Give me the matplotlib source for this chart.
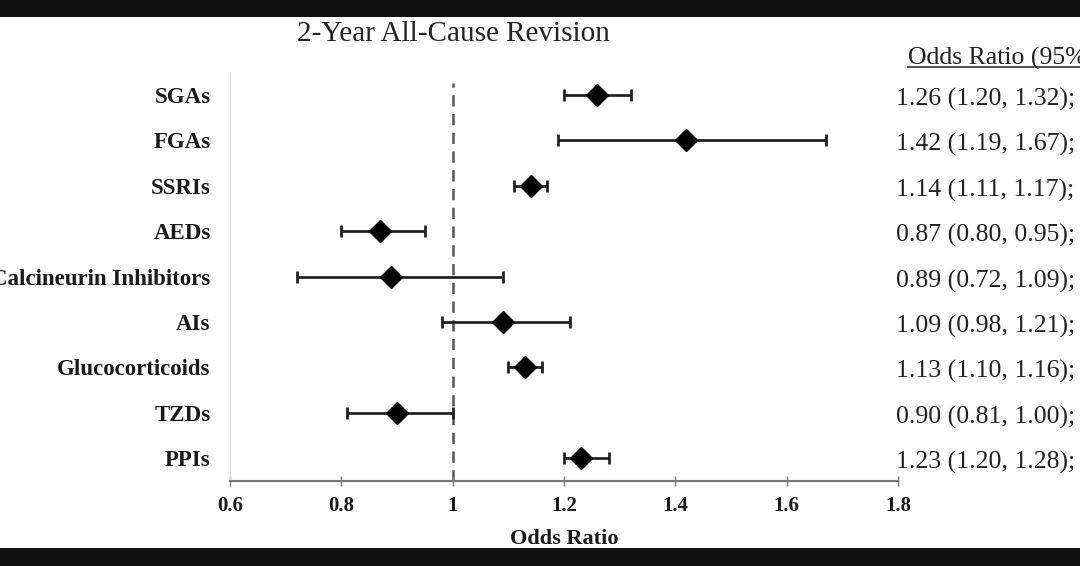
import matplotlib
matplotlib.use('Agg')
import matplotlib.pyplot as plt
import matplotlib.transforms as mtransforms
from matplotlib.patches import Rectangle

drugs = ['SGAs', 'FGAs', 'SSRIs', 'AEDs', 'Calcineurin Inhibitors', 'AIs',
         'Glucocorticoids', 'TZDs', 'PPIs']
odds = [1.26, 1.42, 1.14, 0.87, 0.89, 1.09, 1.13, 0.90, 1.23]
lower = [1.20, 1.19, 1.11, 0.80, 0.72, 0.98, 1.10, 0.81, 1.20]
upper = [1.32, 1.67, 1.17, 0.95, 1.09, 1.21, 1.16, 1.00, 1.28]
xticks = [0.6, 0.8, 1, 1.2, 1.4, 1.6, 1.8]
xtick_labels = ['0.6', '0.8', '1', '1.2', '1.4', '1.6', '1.8']

plt.rcParams['font.family'] = ['Liberation Serif', 'DejaVu Serif']

fig = plt.figure(figsize=(10.8, 5.66), dpi=100)
ax = fig.add_axes([230/1080, 1-481/566, 668/1080, 409/566])

ypos = list(range(1, len(drugs)+1))
xerr = [[o - l for o, l in zip(odds, lower)], [u - o for o, u in zip(odds, upper)]]
ax.errorbar(odds, ypos, xerr=xerr, fmt='D', color='black', ecolor='#222222',
            elinewidth=2, capsize=4, capthick=2, markersize=11, zorder=3)
ax.axvline(1, ymin=0, ymax=0.973, color='#555555', linestyle=(0, (4.5, 3)), lw=1.8, zorder=1)

ax.set_xlim(0.6, 1.8)
ax.set_ylim(len(drugs)+0.5, 0.5)
ax.set_xticks(xticks)
ax.set_xticklabels(xtick_labels, fontsize=15, fontweight='bold', color='#1a1a1a')
ax.set_yticks(ypos)
ax.set_yticklabels(drugs, fontsize=16.5, fontweight='bold', color='#1a1a1a')
ax.tick_params(axis='y', length=0, pad=14)
ax.tick_params(axis='x', direction='inout', length=7, width=1, color='#777777', pad=7)
for s in ['top', 'right']:
    ax.spines[s].set_visible(False)
ax.spines['left'].set_color('#e4e4e4')
ax.spines['bottom'].set_color('#777777')
ax.spines['bottom'].set_linewidth(1.5)
ax.set_xlabel('Odds Ratio', fontsize=16, fontweight='bold', labelpad=10, color='#1a1a1a')

fig.text(453/1080, 1-41/566, '2-Year All-Cause Revision', ha='center', va='baseline',
         fontsize=21, color='#222222')

# right column with the numbers
trans = mtransforms.blended_transform_factory(fig.transFigure, ax.transData)
for y, o, l, u in zip(ypos, odds, lower, upper):
    ax.text(896/1080, y + 0.04, f'{o:.2f} ({l:.2f}, {u:.2f});', transform=trans,
            ha='left', va='center_baseline', fontsize=18.5, color='#222222', clip_on=False)
fig.text(908/1080, 1-56/566, 'Odds Ratio (95%', ha='left', va='center_baseline',
         fontsize=18.5, color='#222222')
fig.add_artist(plt.Line2D([908/1080, 1.0], [1-67/566, 1-67/566], color='#444444', lw=1.3))

# black bands at top and bottom
fig.add_artist(Rectangle((0, 1-17/566), 1, 17/566, transform=fig.transFigure,
                         facecolor='#111111', edgecolor='none'))
fig.add_artist(Rectangle((0, 0), 1, 18/566, transform=fig.transFigure,
                         facecolor='#111111', edgecolor='none'))

fig.savefig('out.png', dpi=100)
